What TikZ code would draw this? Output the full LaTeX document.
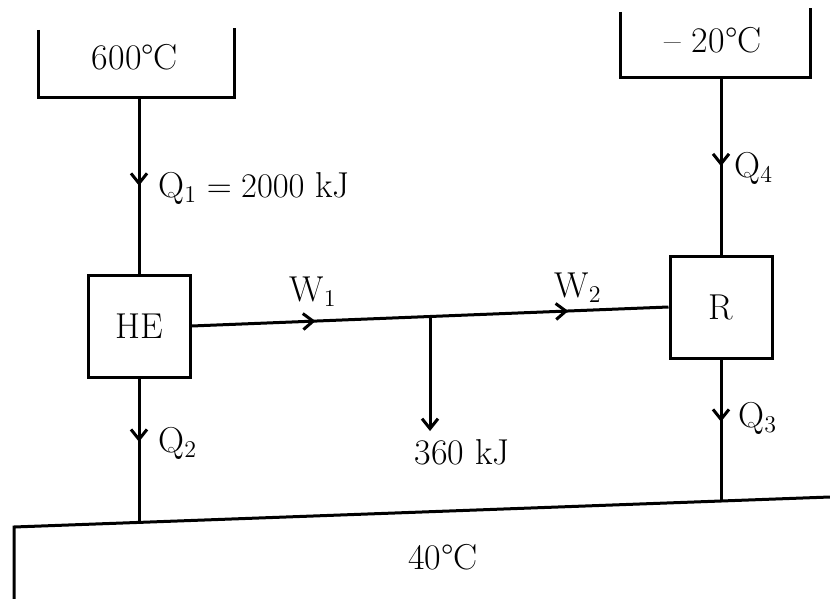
\documentclass[tikz,border=0pt]{standalone}
\usepackage{fontspec}
\usetikzlibrary{arrows.meta,decorations.markings,calc}

\begin{document}
\begin{tikzpicture}[
    x=0.5pt, y=-0.5pt,
    font=\fontsize{18}{21}\selectfont,
    line width=1.5pt,
    engine/.style={draw, rectangle, minimum width=51pt, minimum height=51pt, inner sep=0pt},
    tag/.style={inner sep=2pt},
    flow/.style={postaction={decorate, decoration={markings, mark=at position #1 with {\arrow{Straight Barb[length=5pt, width=8pt]}}}}},
    flow/.default=0.5,
    drop/.style={-{Straight Barb[length=5pt, width=8pt]}}
]
    \useasboundingbox (0,0) rectangle (830,599);

    % Reservoirs
    \draw (38,30) -- (38,98) -- (234,98) -- (234,28);
    \node (hotT) at (135,57) {600°C};
    \coordinate (hot) at (139,98);

    \draw (620,12) -- (620,78) -- (810,78) -- (810,8);
    \node (coldT) at (713,40) {-- 20°C};
    \coordinate (cold) at (721,78);

    \coordinate (s1) at (14,527);
    \coordinate (s2) at (830,497);
    \draw (14,600) -- (s1) -- (s2);
    \node (sinkT) at (443,557) {40°C};

    % Heat engine and refrigerator
    \node [engine] (HE) at (139,326) {HE};
    \node [engine] (R) at (721,307) {R};

    \coordinate (sinkL) at (139,522.4);
    \coordinate (sinkR) at (721,501);

    % Heat flows
    \draw [flow=0.5] (hot) -- (HE.north);
    \draw [flow=0.44] (HE.south) -- (sinkL);
    \draw [flow=0.5] (cold) -- (R.north);
    \draw [flow=0.44] (R.south) -- (sinkR);

    \node [tag, anchor=west] (q1) at (153,188) {$\mathrm{Q}_1 = 2000$ kJ};
    \node [tag, anchor=west] (q2) at (153,443) {$\mathrm{Q}_2$};
    \node [tag, anchor=west] (q4) at (729,168) {$\mathrm{Q}_4$};
    \node [tag, anchor=west] (q3) at (733,418) {$\mathrm{Q}_3$};

    % Work
    \draw [flow=0.26, flow=0.79] (HE.east) -- (R.west);
    \coordinate (split) at ($(HE.east)!0.5!(R.west)$);
    \node (loss) at (462,452) {360 kJ};
    \draw [drop] (split) -- (split |- loss.north);

    \node (w1) at (313,292) {W$_1$};
    \node (w2) at (578,288) {W$_2$};

\end{tikzpicture}
\end{document}
